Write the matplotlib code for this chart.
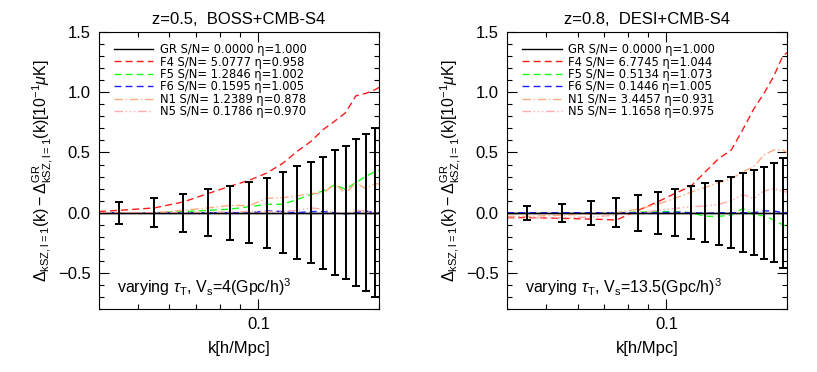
import matplotlib
matplotlib.use("Agg")
import matplotlib.pyplot as plt
from matplotlib.ticker import FixedLocator, NullFormatter, MultipleLocator, FixedFormatter

plt.rcParams["font.family"] = ["Liberation Sans", "DejaVu Sans"]
plt.rcParams["mathtext.fontset"] = "custom"
plt.rcParams["mathtext.rm"] = "Liberation Sans"
plt.rcParams["mathtext.it"] = "Liberation Sans:italic"

# k-Bins der Fehlerbalken und Gitter der Modellkurven
k_bins = [0.045, 0.055, 0.065, 0.075, 0.085, 0.095, 0.105, 0.115,
          0.125, 0.135, 0.145, 0.155, 0.165, 0.175, 0.185, 0.195]
k_curve = [0.040] + k_bins + [0.200]

# z=0.5, BOSS+CMB-S4
err_l = [0.090, 0.122, 0.157, 0.193, 0.225, 0.254, 0.290, 0.335,
         0.386, 0.420, 0.464, 0.518, 0.553, 0.611, 0.653, 0.700]
gr_l = [0.0] * 18
f4_l = [0.01, 0.02, 0.04, 0.09, 0.16, 0.22, 0.27, 0.33, 0.41, 0.51,
        0.59, 0.69, 0.76, 0.83, 0.97, 0.99, 1.02, 1.04]
f5_l = [0.0, 0.0, 0.0, 0.01, 0.02, 0.03, 0.05, 0.07, 0.07, 0.11,
        0.15, 0.18, 0.23, 0.195, 0.25, 0.30, 0.34, 0.35]
f6_l = [0.0, 0.0, 0.0, 0.0, 0.0, 0.0, 0.0, 0.015, 0.01, 0.0,
        0.01, 0.01, 0.0, -0.01, 0.0, 0.015, 0.0, 0.0]
n1_l = [0.0, 0.0, 0.0, 0.02, 0.04, 0.06, 0.06, 0.12, 0.125, 0.14,
        0.16, 0.16, 0.24, 0.16, 0.25, 0.20, 0.24, 0.24]
n5_l = [0.0, 0.0, 0.0, 0.0, 0.005, 0.005, 0.01, 0.01, 0.01, 0.02,
        0.04, 0.03, 0.0, -0.01, 0.02, 0.015, 0.0, 0.0]
sn_l = ["0.0000", "5.0777", "1.2846", "0.1595", "1.2389", "0.1786"]
eta_l = ["1.000", "0.958", "1.002", "1.005", "0.878", "0.970"]

# z=0.8, DESI+CMB-S4
err_r = [0.057, 0.076, 0.099, 0.121, 0.150, 0.175, 0.194, 0.219,
         0.247, 0.265, 0.294, 0.329, 0.351, 0.382, 0.412, 0.458]
gr_r = [0.0] * 18
f4_r = [-0.04, -0.04, -0.047, -0.053, -0.06, 0.02, 0.09, 0.16, 0.22, 0.34,
        0.45, 0.52, 0.69, 0.86, 0.99, 1.13, 1.30, 1.33]
f5_r = [-0.005, -0.005, 0.0, 0.0, 0.0, 0.005, 0.01, 0.01, 0.0, -0.03,
        -0.03, -0.02, 0.035, -0.02, -0.025, -0.06, -0.10, -0.115]
f6_r = [0.0, 0.0, 0.0, 0.0, 0.0, 0.0, 0.0, 0.005, 0.0, -0.005,
        0.0, 0.0, 0.0, 0.0, 0.015, 0.015, 0.0, 0.0]
n1_r = [-0.03, -0.03, -0.02, -0.01, 0.0, 0.03, 0.07, 0.12, 0.17, 0.21,
        0.25, 0.28, 0.34, 0.38, 0.48, 0.52, 0.52, 0.50]
n5_r = [-0.045, -0.045, -0.04, -0.035, -0.02, 0.0, 0.02, 0.035, 0.05, 0.055,
        0.07, 0.10, 0.15, 0.12, 0.18, 0.20, 0.18, 0.17]
sn_r = ["0.0000", "6.7745", "0.5134", "0.1446", "3.4457", "1.1658"]
eta_r = ["1.000", "1.044", "1.073", "1.005", "0.931", "0.975"]

models = ["GR", "F4", "F5", "F6", "N1", "N5"]
colors = ["black", "#ff1a1a", "#1aff1a", "#2020ff", "#ffaa80", "#ffaaaa"]
styles = ["-", (0, (5, 3)), (0, (5, 3)), (0, (5, 3)),
          (0, (6, 2, 1, 2)), (0, (6, 2, 1, 2, 1, 2, 1, 2))]

panels = [
    ("z=0.5,  BOSS+CMB-S4", [gr_l, f4_l, f5_l, f6_l, n1_l, n5_l], err_l, sn_l, eta_l,
     r"varying $\tau_{\rm T}$, V$_{\rm s}$=4(Gpc/h)$^{3}$"),
    ("z=0.8,  DESI+CMB-S4", [gr_r, f4_r, f5_r, f6_r, n1_r, n5_r], err_r, sn_r, eta_r,
     r"varying $\tau_{\rm T}$, V$_{\rm s}$=13.5(Gpc/h)$^{3}$"),
]

fig = plt.figure(figsize=(8.17, 3.72), dpi=100)
lefts = [0.121, 0.6205]

for left, (title, curves, err, sn, eta, note) in zip(lefts, panels):
    ax = fig.add_axes([left, 0.169, 0.343, 0.745])
    for name, y, c, ls, s, e in zip(models, curves, colors, styles, sn, eta):
        ax.plot(k_curve, y, color=c, linestyle=ls, lw=1.0,
                label=f"{name} S/N= {s} η={e}")
    ax.errorbar(k_bins, [0.0] * len(k_bins), yerr=err, fmt="none",
                ecolor="black", elinewidth=1.4, capsize=2.6, capthick=1.4, zorder=5)
    ax.plot(k_curve, curves[0], color="black", lw=1.0, zorder=6)

    ax.set_xscale("log")
    ax.set_xlim(0.04, 0.2)
    ax.set_ylim(-0.8, 1.5)
    ax.xaxis.set_major_locator(FixedLocator([0.1]))
    ax.xaxis.set_major_formatter(FixedFormatter(["0.1"]))
    ax.xaxis.set_minor_locator(FixedLocator([0.05, 0.06, 0.07, 0.08, 0.09, 0.2]))
    ax.xaxis.set_minor_formatter(NullFormatter())
    ax.yaxis.set_major_locator(MultipleLocator(0.5))
    ax.yaxis.set_minor_locator(MultipleLocator(0.1))
    ax.tick_params(which="both", direction="in", top=True, right=True,
                   labelsize=12, width=0.8)
    ax.tick_params(which="major", length=7, pad=6)
    ax.tick_params(which="minor", length=3.5)
    for sp in ax.spines.values():
        sp.set_linewidth(0.8)

    ax.set_title(title, fontsize=12, pad=6)
    ax.set_xlabel("k[h/Mpc]", fontsize=12, labelpad=6)
    ax.set_ylabel(r"$\Delta_{\rm kSZ,l=1}({\rm k})-\Delta^{\rm GR}_{\rm kSZ,l=1}({\rm k})[10^{-1}\mu{\rm K}]$",
                  fontsize=11.5, labelpad=2)
    ax.text(0.065, 0.08, note, transform=ax.transAxes, fontsize=11.5, va="center")
    ax.legend(loc="upper left", bbox_to_anchor=(0.055, 0.96), frameon=False,
              prop={"family": "DejaVu Sans", "size": 8.3},
              handlelength=3.4, handletextpad=0.6, labelspacing=-0.05,
              borderpad=0, borderaxespad=0)

fig.savefig("out.png", dpi=100)
